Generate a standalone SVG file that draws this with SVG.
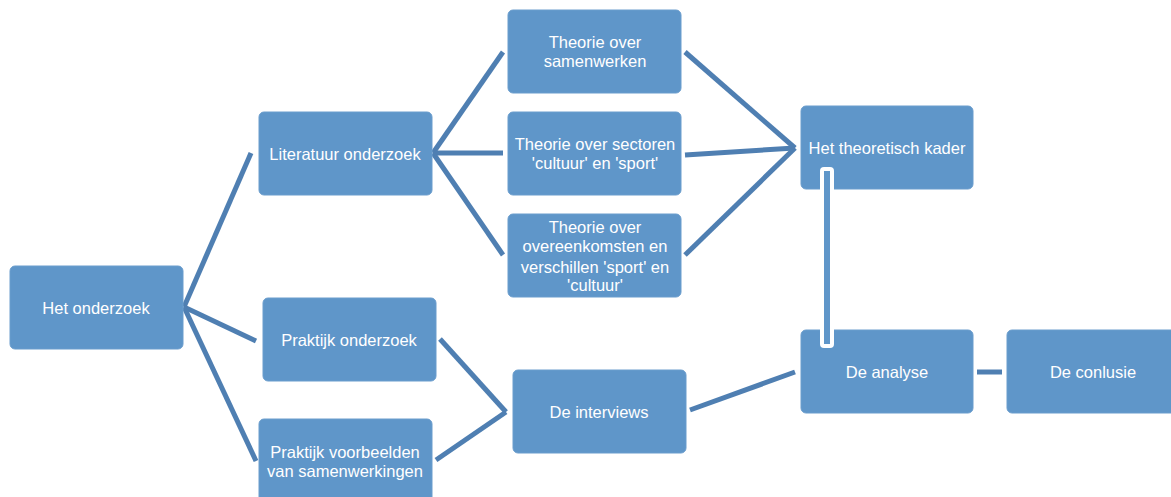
<svg xmlns="http://www.w3.org/2000/svg" width="1171" height="497" viewBox="0 0 1171 497">
<style>
.box{fill:#5F96C9;stroke:#6A9DCD;stroke-width:1}
.t{font-family:"Liberation Sans",Arial,sans-serif;font-size:16.5px;fill:#FFFFFF;text-anchor:middle}
.c{stroke:#4F7FB2;stroke-width:5;fill:none;stroke-linecap:butt}
</style>
<rect width="1171" height="497" fill="#FFFFFF"/>
<g id="connectors">
<line class="c" x1="184" y1="307" x2="251" y2="153"/>
<line class="c" x1="184" y1="307" x2="256" y2="341"/>
<line class="c" x1="184" y1="307" x2="256" y2="461"/>
<line class="c" x1="433" y1="153" x2="503" y2="52"/>
<line class="c" x1="433" y1="153" x2="503" y2="153"/>
<line class="c" x1="433" y1="153" x2="503" y2="255"/>
<line class="c" x1="685" y1="52" x2="795" y2="148"/>
<line class="c" x1="685" y1="155" x2="795" y2="148"/>
<line class="c" x1="685" y1="255" x2="795" y2="148"/>
<line class="c" x1="440" y1="339" x2="506" y2="412"/>
<line class="c" x1="436" y1="460" x2="506" y2="412"/>
<line class="c" x1="690" y1="410" x2="795" y2="372"/>
<line class="c" x1="977" y1="372" x2="1002" y2="372"/>
</g>
<g id="n1"><rect class="box" x="10" y="266" width="173" height="83" rx="5"/><text class="t" x="96" y="314">Het onderzoek</text></g>
<g id="n2"><rect class="box" x="259" y="112" width="173" height="83" rx="5"/><text class="t" x="345" y="160">Literatuur onderzoek</text></g>
<g id="n3"><rect class="box" x="508" y="10" width="173" height="83" rx="5"/><text class="t" x="595" y="48">Theorie over</text><text class="t" x="595" y="67">samenwerken</text></g>
<g id="n4"><rect class="box" x="508" y="112" width="173" height="83" rx="5"/><text class="t" x="595" y="150">Theorie over sectoren</text><text class="t" x="595" y="169">'cultuur' en 'sport'</text></g>
<g id="n5"><rect class="box" x="508" y="214" width="173" height="83" rx="5"/><text class="t" x="595" y="233">Theorie over</text><text class="t" x="595" y="252">overeenkomsten en</text><text class="t" x="595" y="273">verschillen 'sport' en</text><text class="t" x="595" y="291">'cultuur'</text></g>
<g id="n6"><rect class="box" x="263" y="298" width="173" height="83" rx="5"/><text class="t" x="349" y="346">Praktijk onderzoek</text></g>
<g id="n7"><rect class="box" x="259" y="419" width="173" height="90" rx="5"/><text class="t" x="345" y="458">Praktijk voorbeelden</text><text class="t" x="345" y="477">van samenwerkingen</text></g>
<g id="n8"><rect class="box" x="513" y="370" width="173" height="83" rx="5"/><text class="t" x="599" y="418">De interviews</text></g>
<g id="n9"><rect class="box" x="801" y="106" width="172" height="83" rx="5"/><text class="t" x="887" y="154">Het theoretisch kader</text></g>
<g id="n10"><rect class="box" x="801" y="330" width="172" height="83" rx="5"/><text class="t" x="887" y="378">De analyse</text></g>
<g id="n11"><rect class="box" x="1007" y="330" width="172" height="83" rx="5"/><text class="t" x="1093" y="378">De conlusie</text></g>
<g id="connector-overlay">
<rect x="820" y="167" width="14" height="181" rx="4" fill="#FFFFFF"/>
<rect x="824" y="171" width="6" height="173" fill="#5F96C9"/>
</g>
</svg>
